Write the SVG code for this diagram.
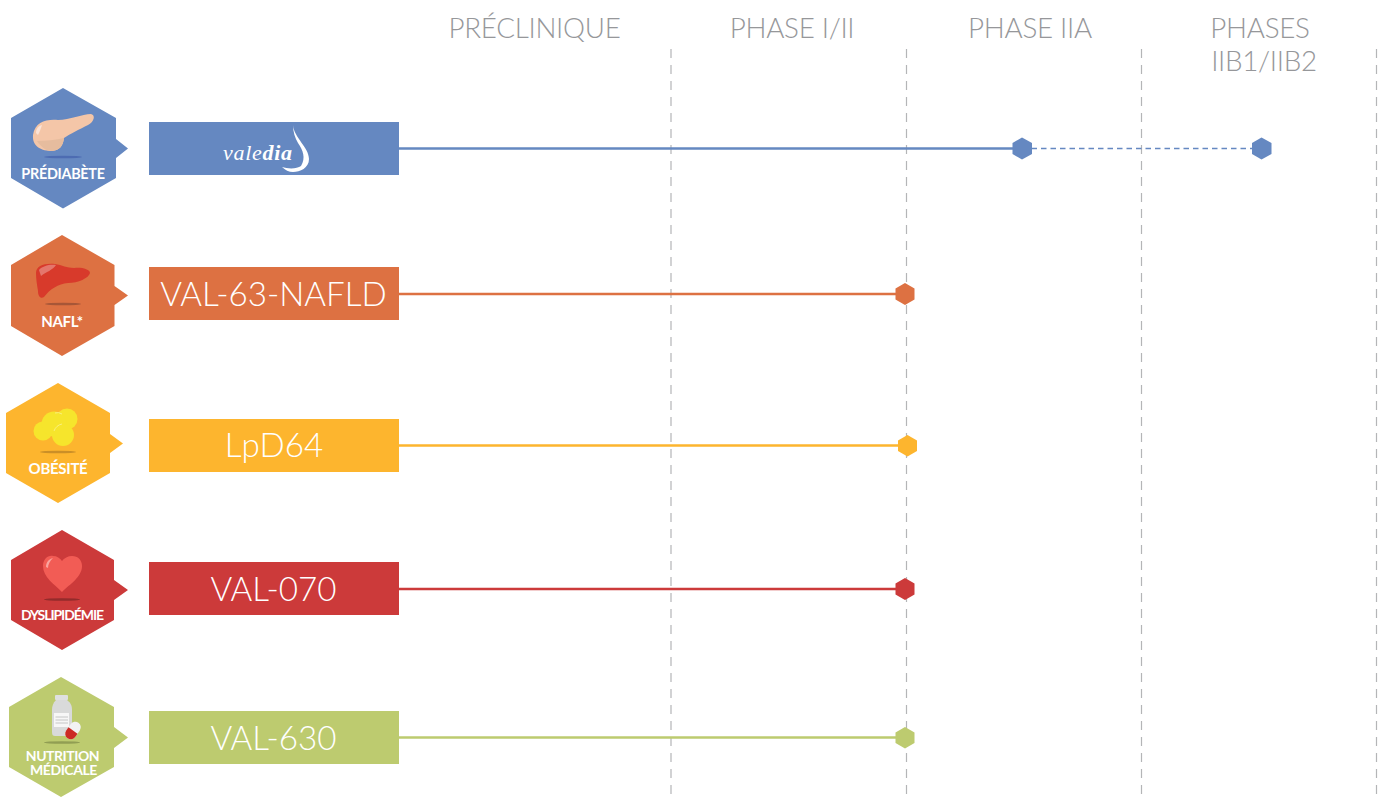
<svg xmlns="http://www.w3.org/2000/svg" width="1383" height="797" viewBox="0 0 1383 797">
<style>
.head{font-family:Lato,"Open Sans",sans-serif;font-weight:300;font-size:27.800px;fill:#96979a;text-anchor:middle;letter-spacing:-.3px}
.lab{font-family:Lato,"Open Sans",sans-serif;font-weight:700;font-size:14.400px;fill:#fff;text-anchor:middle;letter-spacing:-.3px}
.name{font-family:Lato,"Open Sans",sans-serif;font-weight:300;font-size:33.200px;fill:#fff;text-anchor:middle}
.grid{stroke:#b4b5b7;stroke-width:1.200;stroke-dasharray:9 7;fill:none}
.line{stroke-width:2.600;fill:none}
.blue{fill:#6588c1}.orange{fill:#dd7142}.yellow{fill:#fdb52e}.red{fill:#cc3a3a}.green{fill:#bdcb6f}
</style>
<g id="headers">
<text class="head" x="534.500" y="38">PRÉCLINIQUE</text>
<text class="head" x="792" y="38">PHASE I/II</text>
<text class="head" x="1030" y="38">PHASE IIA</text>
<text class="head" x="1260" y="38">PHASES</text>
<text class="head" x="1264" y="71">IIB1/IIB2</text>
</g>
<g id="gridlines">
<line class="grid" x1="671" y1="49" x2="671" y2="797"/>
<line class="grid" x1="906.500" y1="49" x2="906.500" y2="797"/>
<line class="grid" x1="1141.500" y1="49" x2="1141.500" y2="797"/>
<line class="grid" x1="1376.500" y1="49" x2="1376.500" y2="797"/>
</g>
<g id="connectors">
<line class="line" x1="399" y1="148.500" x2="1022" y2="148.500" stroke="#6588c1"/>
<line x1="1022" y1="148.500" x2="1261" y2="148.500" stroke="#6588c1" stroke-width="1.300" stroke-dasharray="5.500 4"/>
<line class="line" x1="399" y1="294" x2="905" y2="294" stroke="#dd7142"/>
<line class="line" x1="399" y1="445.500" x2="907" y2="445.500" stroke="#fdb52e"/>
<line class="line" x1="399" y1="589" x2="905" y2="589" stroke="#cc3a3a"/>
<line class="line" x1="399" y1="737.500" x2="905" y2="737.500" stroke="#bdcb6f"/>
</g>
<g id="markers">
<polygon class="blue" points="1022,137.500 1032,143 1032,154 1022,159.500 1012.500,154 1012.500,143"/>
<polygon class="blue" points="1261.500,137.500 1271.500,143 1271.500,154 1261.500,159.500 1252,154 1252,143"/>
<polygon class="orange" points="905,283 914.500,288.500 914.500,299.500 905,305 895.500,299.500 895.500,288.500"/>
<polygon class="yellow" points="907.500,435 917,440.500 917,451 907.500,456.500 898,451 898,440.500"/>
<polygon class="red" points="905,578 914.500,583.500 914.500,594.500 905,600 895.500,594.500 895.500,583.500"/>
<polygon class="green" points="905,727 914.500,732.500 914.500,743 905,748.500 895.500,743 895.500,732.500"/>
</g>
<g id="node-prediabete">
<polygon class="blue" points="63,88 116,118 116,139 128,148.500 116,158 116,178 63,208.500 11,178 11,118"/>
<path d="M33,135C35,122 46,119 58,120C70,120 82,114 91,114C96,115 94,122 88,125C80,129 70,134 64,138C63,146 60,150 52,151C42,151 32,147 33,135Z" fill="#f4c6a8"/>
<path d="M37,141C46,141 56,140 64,138C63,146 60,150 52,151C46,151 41,147 37,141Z" fill="#e6bc9e"/>
<path d="M36,133C36,129 38,126 42,125C41,128 40,131 38,135Z" fill="#fbe3d6"/>
<ellipse cx="63" cy="157" rx="19" ry="1.300" fill="#3d5aa8" opacity=".6"/>
<text class="lab" x="63" y="178.500">PRÉDIABÈTE</text>
<rect class="blue" x="149" y="122" width="250" height="53"/>
<text x="223" y="160" font-family="'Liberation Serif',serif" font-size="22" font-style="italic" letter-spacing=".7" fill="#fff">vale<tspan font-weight="700">dia</tspan></text>
<path d="M293,125C294,138 309,147 309,159C309,168 300,172 293,172C289,172 285,170 282,167C288,169 297,169 301,166C306,158 303,150 298,143C295,138 293,132 293,125Z" fill="#fff"/>
</g>
<g id="node-nafl">
<polygon class="orange" points="62,235 114.500,265 114.500,286 128,295.500 114.500,305 114.500,326 62,356 11,326 11,265"/>
<path d="M36,273C36,266 44,263 55,264C62,265 67,268 74,268C81,267 90,269 90,273C89,278 78,283 68,283C58,284 50,289 44,297C41,299 38,297 38,291C37,285 36,279 36,273Z" fill="#d83a2b"/>
<path d="M39,270C42,266 50,264 56,265C53,270 46,272 41,276Z" fill="#e4766c"/>
<ellipse cx="63" cy="304" rx="18" ry="1.300" fill="#7a4030" opacity=".55"/>
<text class="lab" x="62" y="326.500" style="font-size:15px">NAFL*</text>
<rect class="orange" x="149" y="267" width="250" height="53"/>
<text class="name" x="273.500" y="306">VAL-63-NAFLD</text>
</g>
<g id="node-obesite">
<polygon class="yellow" points="58,383 110,413 110,434 123,443.500 110,453 110,473 58,503 6,473 6,413"/>
<g fill="#f6e52c">
<circle cx="43" cy="431" r="9.500"/>
<circle cx="67" cy="419" r="10.500"/>
<circle cx="54" cy="424" r="12.500"/>
<circle cx="63" cy="435" r="11"/>
</g>
<g fill="none" stroke="#fbf3a0" stroke-width=".7">
<path d="M54,431A11,11 0 0 1 62,424"/>
<path d="M55,413A8,8 0 0 1 62,414"/>
</g>
<ellipse cx="58" cy="452" rx="18" ry="1.300" fill="#9a6a20" opacity=".5"/>
<text class="lab" x="58" y="474" style="font-size:15px">OBÉSITÉ</text>
<rect class="yellow" x="149" y="419" width="250" height="53"/>
<text class="name" x="274" y="457">LpD64</text>
</g>
<g id="node-dyslipidemie">
<polygon class="red" points="62,530 114,560 114,580 128,590 114,600 114,620 62,650 11,620 11,560"/>
<path d="M62,592C54,584 43,577 43,566C43,559 48,555 53,556C57,556 60,558 62,561C64,558 68,556 72,556C78,556 82,560 82,566C82,577 70,584 62,592Z" fill="#f25c55"/>
<path d="M46,567C46,562 49,559 53,558C50,561 48,564 48,568Z" fill="#f9a5a0"/>
<ellipse cx="62" cy="599.500" rx="18" ry="1.300" fill="#6d2222" opacity=".6"/>
<text class="lab" x="62" y="619.500" style="font-size:14px;letter-spacing:-1.050px">DYSLIPIDÉMIE</text>
<rect class="red" x="149" y="562" width="250" height="53"/>
<text class="name" x="273.500" y="601">VAL-070</text>
</g>
<g id="node-nutrition">
<polygon class="green" points="61,677 114,707 114,727 128,737.500 114,748 114,767 61,797 9,767 9,707"/>
<rect x="55" y="695" width="13" height="5" rx="1" fill="#dfe0e0"/>
<path d="M56,700H67C71,703 72,706 72,710V732C72,735 70,736 68,736H55C53,736 52,735 52,732V710C52,706 53,703 56,700Z" fill="#d9dada"/>
<rect x="54" y="713" width="15" height="14" fill="#f7f7f7"/>
<path d="M55.500,717H68M55.500,720H68M55.500,723H68" stroke="#b9baba" stroke-width=".8"/>
<g transform="translate(73,730.500) rotate(-55)">
<rect x="-9.500" y="-5.500" width="19" height="11" rx="5.500" fill="#f2f2f2"/>
<path d="M0,-5.500H-4A5.500,5.500 0 0 0 -4,5.500H0Z" fill="#cc2a24"/>
</g>
<ellipse cx="62" cy="742.500" rx="18" ry="1.300" fill="#6d7a3c" opacity=".55"/>
<text class="lab" style="font-size:14px;letter-spacing:-.45px"><tspan x="62.500" y="761">NUTRITION</tspan><tspan x="63.500" y="775">MÉDICALE</tspan></text>
<rect class="green" x="149" y="711" width="250" height="53"/>
<text class="name" x="273.500" y="750">VAL-630</text>
</g>
</svg>
